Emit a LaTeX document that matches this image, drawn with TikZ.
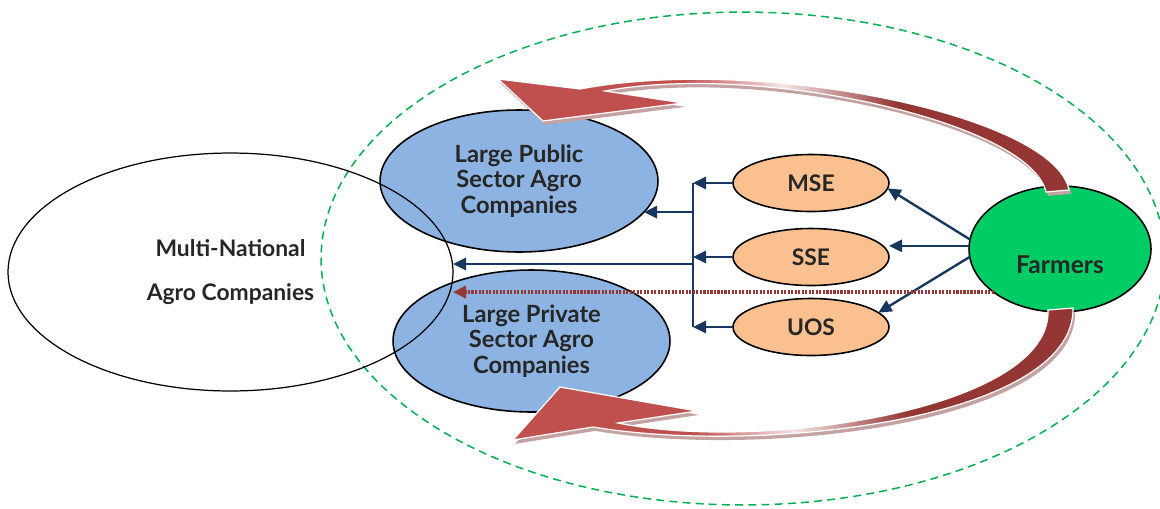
\documentclass[tikz,border=0pt]{standalone}
\usepackage{fontspec}
\setmainfont{Lato}
\usetikzlibrary{shapes.geometric,arrows.meta}
\definecolor{bluef}{HTML}{8DB3E2}
\definecolor{orangef}{HTML}{FAC090}
\definecolor{greenf}{HTML}{00CC66}
\definecolor{navyc}{HTML}{17375E}
\definecolor{dotred}{HTML}{953735}
\definecolor{arrowred}{HTML}{C0504D}
\definecolor{arrowdark}{HTML}{943634}
\definecolor{arrowlight}{HTML}{F4E4E4}
\definecolor{shadowc}{HTML}{C4A2A2}
\definecolor{dashgreen}{HTML}{00B050}
\definecolor{txtgray}{HTML}{262626}
\pgfdeclarehorizontalshading{arcshade}{100bp}{color(0bp)=(arrowred); color(41bp)=(arrowred); color(50bp)=(arrowlight); color(60bp)=(arrowdark); color(100bp)=(arrowdark)}
\newcommand\topArrowPath{(498,79) -- (580,89) .. controls (760,55) and (1055,115) .. (1069,190) -- (1046,192) .. controls (1030,122) and (760,62) .. (605,91) -- (683,103) -- (543,121) -- cycle}
\newcommand\botArrowPath{(513,440) -- (593,427) .. controls (760,455) and (1075,420) .. (1073,308) -- (1048,310) .. controls (1052,410) and (760,452) .. (618,423) -- (697,411) -- (560,387) -- cycle}
\begin{document}
\begin{tikzpicture}[x=0.02cm,y=-0.02cm,
  lbl/.style={font=\bfseries\fontsize{13}{14.5}\selectfont,text=txtgray,align=center},
  ell/.style={ellipse,draw=black,line width=0.9pt,inner sep=0pt,outer sep=0pt},
  navyarr/.style={draw=navyc,line width=1.35pt,-{Triangle[length=7.5pt,width=7pt]}},
  barline/.style={draw=navyc,line width=1.35pt},
  dotarr/.style={draw=dotred,line width=2pt,dash pattern=on 1.2pt off 0.8pt,-{Triangle[length=7.5pt,width=7pt]}},
  bigarrow/.style={shading=arcshade,draw=white,line width=0.7pt},
  bigshadow/.style={fill=shadowc,xshift=1.2pt,yshift=-2.2pt},
]
\useasboundingbox (0,0) rectangle (1160,508);

\node[ellipse,draw=dashgreen,line width=0.85pt,dash pattern=on 4.5pt off 3pt,
      minimum width=16.88cm,minimum height=9.86cm,inner sep=0pt] (zone) at (743,258.5) {};

\node[ell,fill=bluef,minimum width=5.56cm,minimum height=2.84cm,lbl,font=\bfseries\fontsize{13.5}{14.5}\selectfont] (lpub) at (519,181)
  {Large Public\\Sector Agro\\Companies};
\node[ell,fill=bluef,minimum width=5.54cm,minimum height=2.84cm,lbl,font=\bfseries\fontsize{13.5}{14.5}\selectfont] (lpriv) at (531.5,341)
  {Large Private\\Sector Agro\\Companies};
\node[ellipse,draw=black,line width=0.7pt,inner sep=0pt,outer sep=0pt,
      minimum width=8.9cm,minimum height=4.76cm,lbl] (mn) at (230.5,272)
  {Multi-National\\[10.5pt]Agro Companies};

\coordinate (barx) at (693,0);
\coordinate (j2) at (693,264);

\node[ell,fill=orangef,minimum width=3.12cm,minimum height=1.14cm,lbl] (mse) at (811,183) {MSE};
\node[ell,fill=orangef,minimum width=3.12cm,minimum height=1.14cm,lbl] (sse) at (811,257) {SSE};
\node[ell,fill=orangef,minimum width=3.12cm,minimum height=1.14cm,lbl] (uos) at (811,327) {UOS};
\node[ell,fill=greenf,minimum width=3.64cm,minimum height=2.52cm] (farmers) at (1060,249) {};
\node[lbl,font=\bfseries\fontsize{14}{14.5}\selectfont] (farmerslbl) at (1060,265) {Farmers};

\draw[barline] (mse.west -| barx) -- (uos.west -| barx);
\draw[navyarr] (mse.west) -- (mse.west -| barx);
\draw[navyarr] (sse.west) -- (sse.west -| barx);
\draw[navyarr] (uos.west) -- (uos.west -| barx);
\draw[navyarr] (lpub.-14 -| barx) -- (lpub.-14);
\draw[navyarr] (j2) -- (j2 -| mn.east);
\draw[navyarr] (farmers.174) -- (mse.-4);
\draw[navyarr] (farmers.178) -- (farmers.178 -| sse.east);
\draw[navyarr] (farmers.185) -- (uos.12);
\draw[dotarr] (farmers.213) -- (farmers.213 -| mn.east);

\fill[bigshadow] \topArrowPath;
\shadedraw[bigarrow] \topArrowPath;
\fill[bigshadow] \botArrowPath;
\shadedraw[bigarrow] \botArrowPath;
\end{tikzpicture}
\end{document}
